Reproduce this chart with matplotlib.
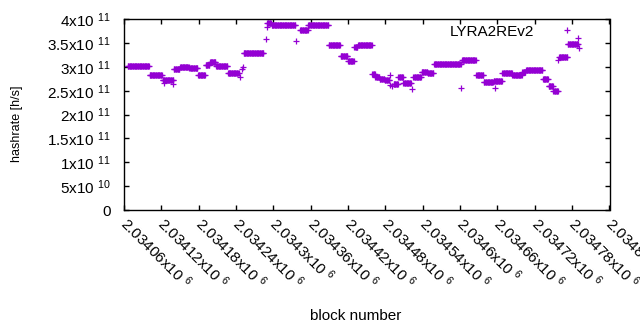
import numpy as np
import matplotlib
matplotlib.use('Agg')
import matplotlib.pyplot as plt
import matplotlib.transforms as mtransforms

plt.rcParams['font.family'] = ['Liberation Sans', 'DejaVu Sans']
plt.rcParams['mathtext.fontset'] = 'custom'
plt.rcParams['mathtext.rm'] = 'Liberation Sans'
plt.rcParams['mathtext.default'] = 'regular'

# runs of consecutive blocks with the same hashrate estimate (x1e11 h/s)
run_start = [2034066, 2034101, 2034122, 2034140, 2034150, 2034165, 2034179, 2034191,
             2034198, 2034208, 2034227, 2034252, 2034290, 2034297, 2034343, 2034356,
             2034389, 2034408, 2034420, 2034430, 2034436, 2034459, 2034464, 2034471,
             2034479, 2034493, 2034501, 2034509, 2034525, 2034538, 2034548, 2034558,
             2034603, 2034626, 2034638, 2034654, 2034668, 2034684, 2034700, 2034706,
             2034733, 2034742, 2034750, 2034759, 2034773]
run_end = [2034100, 2034121, 2034139, 2034149, 2034164, 2034178, 2034190, 2034197,
           2034207, 2034226, 2034244, 2034284, 2034296, 2034335, 2034355, 2034388,
           2034407, 2034419, 2034429, 2034435, 2034458, 2034463, 2034470, 2034478,
           2034486, 2034500, 2034508, 2034521, 2034537, 2034547, 2034557, 2034601,
           2034625, 2034637, 2034653, 2034667, 2034683, 2034699, 2034705, 2034732,
           2034741, 2034749, 2034757, 2034772, 2034789]
run_rate = [3.01, 2.83, 2.72, 2.95, 2.99, 2.97, 2.84, 3.04,
            3.11, 3.03, 2.87, 3.29, 3.93, 3.87, 3.78, 3.89,
            3.46, 3.24, 3.12, 3.41, 3.47, 2.86, 2.78, 2.75,
            2.72, 2.65, 2.79, 2.66, 2.78, 2.90, 2.88, 3.06,
            3.14, 2.83, 2.69, 2.71, 2.87, 2.84, 2.89, 2.93,
            2.75, 2.60, 2.49, 3.20, 3.49]

# isolated blocks
lone_block = [2034125, 2034138, 2034246, 2034249, 2034251, 2034288, 2034289, 2034337,
              2034487, 2034488, 2034490, 2034522, 2034602, 2034656, 2034757, 2034790,
              2034791]
lone_rate = [2.66, 2.65, 2.80, 2.95, 3.00, 3.58, 3.83, 3.55,
             2.83, 2.63, 2.60, 2.54, 2.56, 2.56, 3.14, 3.60,
             3.40]

xticks = np.arange(2034060, 2034841, 60)
yticks = [0, 0.5e11, 1e11, 1.5e11, 2e11, 2.5e11, 3e11, 3.5e11, 4e11]
ylabels = ['0', '5x10 $^{10}$', '1x10 $^{11}$', '1.5x10 $^{11}$', '2x10 $^{11}$',
           '2.5x10 $^{11}$', '3x10 $^{11}$', '3.5x10 $^{11}$', '4x10 $^{11}$']

col = '#9400d3'
fs = 11

blocks = np.concatenate([np.arange(s, e + 1) for s, e in zip(run_start, run_end)])
rates = np.concatenate([np.full(e - s + 1, v) for s, e, v in zip(run_start, run_end, run_rate)])

fig = plt.figure(figsize=(6.4, 3.3), dpi=100)
ax = fig.add_axes([124 / 640, 120 / 330, 485.5 / 640, 190.7 / 330])

ax.plot(blocks, rates * 1e11, '+', color=col, ms=5, mew=0.9, label='LYRA2REv2')
ax.plot(lone_block, np.array(lone_rate) * 1e11, '+', color=col, ms=5, mew=0.9)

ax.set_xlim(2034060, 2034840)
ax.set_ylim(0, 4e11)
ax.set_xticks(xticks)
ax.set_xticklabels(['%gx10 $^{6}$' % (t / 1e6) for t in xticks],
                   rotation=-45, ha='left', va='top', rotation_mode='anchor')
ax.set_yticks(yticks)
ax.set_yticklabels(ylabels)
ax.tick_params(direction='in', length=3.5, width=1, top=True, right=True,
               labelsize=fs, colors='black')
ax.tick_params(axis='y', pad=9.5)
ax.tick_params(axis='x', pad=3)
shift = mtransforms.ScaledTranslation(0.06, 0, fig.dpi_scale_trans)
for lab in ax.get_xticklabels():
    lab.set_transform(lab.get_transform() + shift)
for s in ax.spines.values():
    s.set_linewidth(1)

ax.legend(loc='center right', bbox_to_anchor=(0.944, 0.936), frameon=False,
          markerfirst=False, handlelength=2, handletextpad=1.16, borderpad=0,
          borderaxespad=0, fontsize=fs)

fig.text(356 / 640, 1 - 316 / 330, 'block number', ha='center', va='center', fontsize=fs)
fig.text(17 / 640, 1 - 124 / 330, 'hashrate [h/s]', ha='center', va='center',
         rotation=90, fontsize=9)

fig.savefig('out.png', dpi=100)
